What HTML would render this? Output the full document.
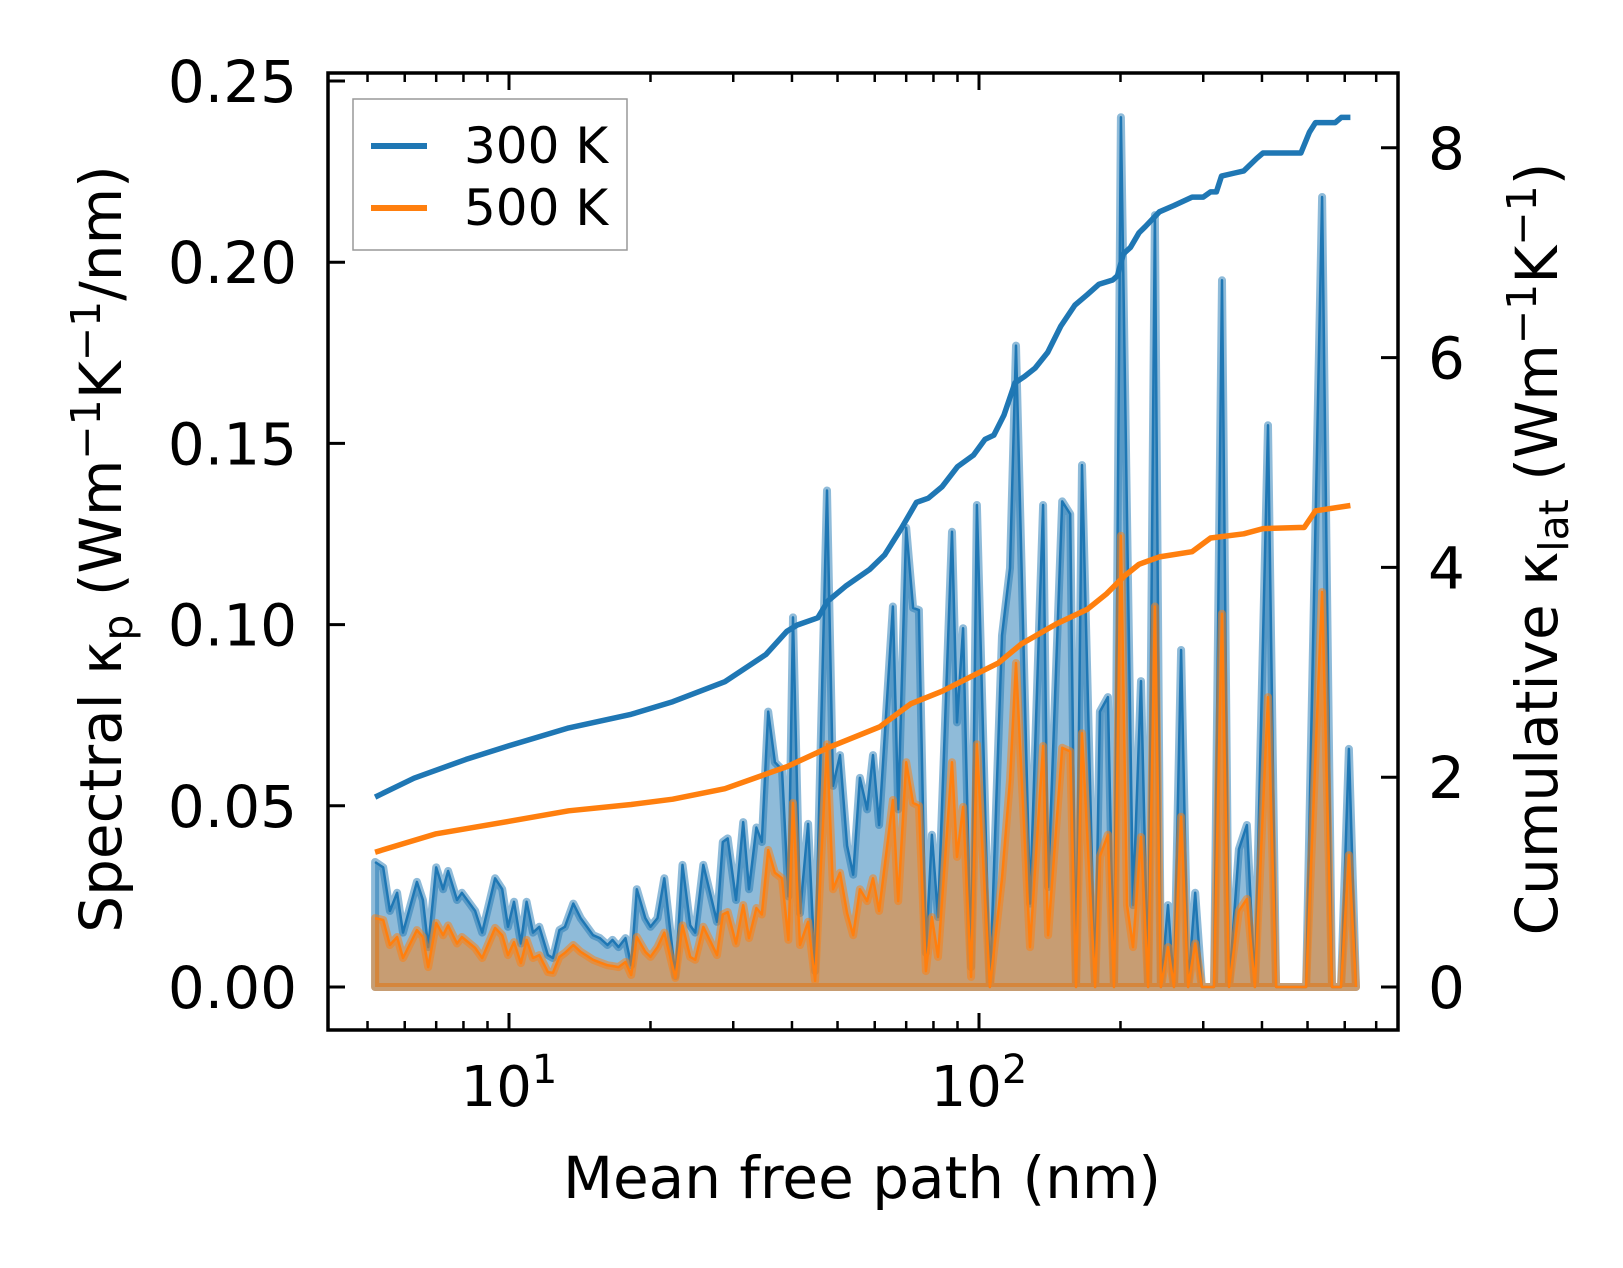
<!DOCTYPE html>
<html><head><meta charset="utf-8"><style>
html,body{margin:0;padding:0;background:#fff;}
svg{display:block;font-family:"DejaVu Sans","Liberation Sans",sans-serif;}
</style></head><body>
<svg id="chart" width="1623" height="1268" viewBox="0 0 1623 1268" xmlns="http://www.w3.org/2000/svg">
<g id="marks"></g>
<g id="axes"></g>
</svg>
<script>
const mfp = [5.19,5.40,5.58,5.78,5.95,6.37,6.56,6.73,7.00,7.24,7.42,7.75,7.94,8.47,8.77,9.34,9.67,9.95,10.25,10.6,10.9,11.25,11.6,12.1,12.4,12.8,13.15,13.7,14.2,15.1,15.6,16.2,16.6,17.1,17.7,18.2,18.7,19.5,20.0,20.7,21.4,22.6,23.4,24.3,24.9,25.9,27.7,28.5,29.2,30.4,31.5,32.4,33.6,34.5,35.6,36.8,38.1,39.3,40.2,41.6,43.3,44.8,47.5,48.9,50.6,52.4,54.0,55.8,57.8,59.5,61.3,65.6,67.3,70.0,72.4,74.5,77.1,79.4,81.8,87.6,89.8,92.5,96.2,99.0,105.5,111.9,116.4,119.9,128.4,136.9,140.3,150.3,156.3,160.8,165.6,176.6,180.8,188.0,193.7,200.4,206.5,212.6,221.1,229.0,236.7,243.8,252.4,260.0,269.2,278.6,288.4,298.0,316.2,328.8,340.4,357.3,371.5,386.4,412,428.6,496.5,537,563.6,589,612.4,634];
const spec300 = [.0345,.033,.021,.026,.015,.029,.024,.011,.033,.027,.032,.024,.026,.021,.015,.030,.027,.0166,.0235,.012,.0235,.015,.0166,.0088,.008,.0157,.0166,.023,.019,.0143,.0135,.0116,.013,.011,.0135,.006,.027,.019,.0166,.019,.030,.003,.0337,.017,.015,.0337,.018,.040,.041,.024,.0455,.027,.044,.040,.076,.062,.060,.025,.102,.0204,.045,.0044,.137,.0555,.064,.039,.031,.0577,.049,.064,.0447,.105,.049,.1267,.1046,.104,.0094,.042,.0193,.1256,.073,.099,.0055,.133,0,.097,.1156,.177,.023,.133,.0276,.134,.1305,0,.144,0,.076,.080,0,.240,.13,.0226,.0844,0,.213,0,.0226,0,.093,0,.026,0,0,.195,0,.038,.0447,0,.155,0,0,.218,0,0,.0657,0];
const spec500 = [.019,.0185,.0116,.0138,.008,.0157,.0138,.0055,.0177,.0143,.017,.012,.0138,.0108,.008,.0163,.0143,.0088,.0124,.0066,.013,.008,.0088,.0041,.0039,.0083,.0094,.0116,.0097,.0075,.0068,.006,.0058,.0055,.0069,.0033,.0138,.0097,.0083,.011,.015,.0025,.017,.0083,.0075,.0166,.0088,.020,.0207,.012,.0226,.0135,.0218,.020,.0378,.0315,.030,.013,.0508,.0116,.018,.0017,.067,.027,.0315,.0204,.0143,.027,.0237,.030,.021,.0516,.0237,.062,.0508,.050,.0044,.0193,.0083,.062,.0359,.0497,.0028,.067,0,.030,.057,.0894,.011,.0665,.0143,.066,.065,0,.070,0,.036,.042,0,.1245,.0226,.011,.0414,0,.105,0,.011,0,.047,0,.012,0,0,.103,0,.021,.0243,0,.080,0,0,.109,0,0,.0364,0];
const cumX300 = [5.19,6.28,8.1,10,13.4,18.2,22.3,28.8,35.2,39.0,41.0,45.4,47.7,52.0,58.5,63.0,68.3,73.6,78.0,83.5,90.0,97.3,103.0,107.5,113.0,119.3,125.0,131.6,140.0,149.3,160.0,169.9,180.0,192.5,197.0,203,210,219,226,242,260,284,300,311,320,328,350,366,390,402,480,484,505,520,560,573,590,617];
const cum300 = [1.81,1.99,2.17,2.30,2.47,2.60,2.72,2.91,3.17,3.39,3.45,3.52,3.68,3.82,3.98,4.12,4.37,4.62,4.66,4.77,4.96,5.07,5.22,5.26,5.45,5.76,5.82,5.90,6.05,6.30,6.50,6.60,6.70,6.74,6.78,6.99,7.05,7.19,7.25,7.39,7.45,7.53,7.53,7.58,7.58,7.73,7.76,7.78,7.90,7.95,7.95,7.95,8.15,8.24,8.24,8.24,8.29,8.29];
const cumX500 = [5.19,7.0,10,13.4,18.2,22.3,28.8,39.0,47.7,61.5,71.6,83.5,97.3,110,123,146,169.9,187,203,219,242,284,311,366,402,480,492,520,617];
const cum500 = [1.285,1.46,1.58,1.68,1.74,1.79,1.89,2.10,2.28,2.48,2.70,2.82,2.97,3.09,3.27,3.46,3.60,3.75,3.91,4.03,4.10,4.15,4.28,4.32,4.37,4.38,4.38,4.54,4.59];
const leftTicks = [0,0.05,0.10,0.15,0.20,0.25];
const leftTickLabels = ["0.00","0.05","0.10","0.15","0.20","0.25"];
const rightTicks = [0,2,4,6,8];
const rightTickLabels = ["0","2","4","6","8"];
const xMajor = [10,100];
const xMinor = [5,6,7,8,9,20,30,40,50,60,70,80,90,200,300,400,500,600,700];

const NS="http://www.w3.org/2000/svg";
const L=328,R=1398,T=73,B=1030;
function xs(v){return 509+(Math.log10(v)-1)*470;}
function yl(v){return 987-v*3624;}
function yr(v){return 987-v*104.9;}
function mk(tag,attrs,parent){const e=document.createElementNS(NS,tag);for(const k in attrs)e.setAttribute(k,attrs[k]);parent.appendChild(e);return e;}
const marks=document.getElementById('marks');
const axes=document.getElementById('axes');

function specSeries(vals,color,rgba,name){
  let pts=mfp.map((m,i)=>xs(m).toFixed(1)+','+yl(vals[i]).toFixed(1));
  const poly=mk('polygon',{points:xs(mfp[0]).toFixed(1)+','+yl(0)+' '+pts.join(' ')+' '+xs(mfp[mfp.length-1]).toFixed(1)+','+yl(0),fill:rgba,stroke:rgba,'stroke-width':8,'stroke-linejoin':'round'},marks);
  
  
  const ln=mk('polyline',{points:pts.join(' '),fill:'none',stroke:color,'stroke-width':2.5,'stroke-linejoin':'round'},marks);
  
  
}
specSeries(spec300,'#1f77b4','rgba(31,119,180,0.5)','spectral-300k');
specSeries(spec500,'#ff7f0e','rgba(255,127,14,0.5)','spectral-500k');
function cumLine(xv,vals,color,name){
  const pts=xv.map((m,i)=>xs(m).toFixed(1)+','+yr(vals[i]).toFixed(1));
  const ln=mk('polyline',{points:pts.join(' '),fill:'none',stroke:color,'stroke-width':5.5,'stroke-linejoin':'round'},marks);
  
  
}
cumLine(cumX300,cum300,'#1f77b4','cumulative-300k');
cumLine(cumX500,cum500,'#ff7f0e','cumulative-500k');

const fr=mk('rect',{x:L,y:T,width:R-L,height:B-T,fill:'none',stroke:'#000','stroke-width':3.5},axes);


leftTicks.forEach((v,i)=>{
  const y=yl(v);
  const t=mk('line',{x1:L,x2:L+17,y1:y,y2:y,stroke:'#000','stroke-width':3},axes);
  
  
  const tx=mk('text',{x:297,y:y+21,'text-anchor':'end','font-size':58},axes);
  tx.textContent=leftTickLabels[i];
  
  
});
rightTicks.forEach((v,i)=>{
  const y=yr(v);
  const t=mk('line',{x1:R-17,x2:R,y1:y,y2:y,stroke:'#000','stroke-width':3},axes);
  
  
  const tx=mk('text',{x:1428,y:y+21,'text-anchor':'start','font-size':58},axes);
  tx.textContent=rightTickLabels[i];
  
  
});
xMajor.forEach(v=>{
  const x=xs(v);
  [[B,B-17],[T,T+17]].forEach(p=>{
    const t=mk('line',{x1:x,x2:x,y1:p[0],y2:p[1],stroke:'#000','stroke-width':3},axes);
    
    
  });
  const tx=mk('text',{x:x,y:1106,'text-anchor':'middle','font-size':56},axes);
  
  
  tx.appendChild(document.createTextNode('10'));
  const sup=mk('tspan',{'font-size':40,dy:-23},tx);
  sup.textContent=String(Math.round(Math.log10(v)));
});
xMinor.forEach(v=>{
  const x=xs(v);
  [[B,B-9],[T,T+9]].forEach(p=>{
    const t=mk('line',{x1:x,x2:x,y1:p[0],y2:p[1],stroke:'#000','stroke-width':2.5},axes);
    
    
  });
});
</script>
<svg style="position:absolute;left:0;top:0" width="1623" height="1268" viewBox="0 0 1623 1268" xmlns="http://www.w3.org/2000/svg">
<g font-family="DejaVu Sans, Liberation Sans, sans-serif">
<text x="862" y="1198" text-anchor="middle" font-size="58">Mean free path (nm)</text>
<text transform="translate(121,549) rotate(-90)" text-anchor="middle" font-size="58">Spectral κ<tspan font-size="41" dy="11">p</tspan><tspan dy="-11"> (Wm</tspan><tspan font-size="41" dy="-21">−1</tspan><tspan dy="21">K</tspan><tspan font-size="41" dy="-21">−1</tspan><tspan dy="21">/nm)</tspan></text>
<text transform="translate(1557,549) rotate(-90)" text-anchor="middle" font-size="58">Cumulative κ<tspan font-size="41" dy="11">lat</tspan><tspan dy="-11"> (Wm</tspan><tspan font-size="41" dy="-21">−1</tspan><tspan dy="21">K</tspan><tspan font-size="41" dy="-21">−1</tspan><tspan dy="21">)</tspan></text>
<g>
<rect x="353" y="99" width="274" height="151" fill="#fff" fill-opacity="0.8" stroke="#999" stroke-width="1.5"/>
<line x1="371" x2="427" y1="146" y2="146" stroke="#1f77b4" stroke-width="6"/>
<text x="464" y="163" font-size="50">300 K</text>
<line x1="371" x2="427" y1="208" y2="208" stroke="#ff7f0e" stroke-width="6"/>
<text x="464" y="225" font-size="50">500 K</text>
</g>
</g>
</svg>
</body></html>
